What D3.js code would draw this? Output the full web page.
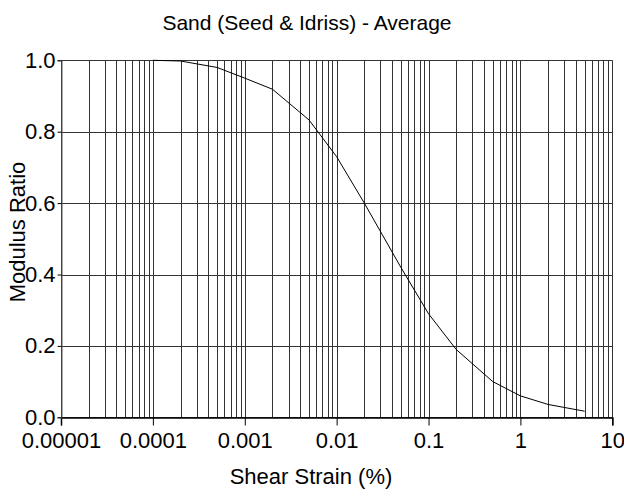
<!DOCTYPE html>
<html>
<head>
<meta charset="utf-8">
<script src="https://cdn.jsdelivr.net/npm/d3@7"></script>
<style>
  html, body { margin: 0; padding: 0; background: #fff; }
  svg { display: block; font-family: "Liberation Sans", Arial, sans-serif; }
</style>
</head>
<body>
<svg id="chart" width="624" height="492"></svg>
<script>
const titleText = "Sand (Seed & Idriss) - Average";
const xLabel = "Shear Strain (%)";
const yLabel = "Modulus Ratio";

const strain = [0.0001, 0.0002, 0.0005, 0.001, 0.002, 0.005, 0.01, 0.02, 0.05, 0.1, 0.2, 0.5, 1, 2, 5];
const modulusRatio = [1.0, 0.998, 0.98, 0.95, 0.919, 0.833, 0.73, 0.60, 0.42, 0.29, 0.19, 0.10, 0.06, 0.036, 0.017];

const xTickValues = [0.00001, 0.0001, 0.001, 0.01, 0.1, 1, 10];
const xTickLabels = ["0.00001", "0.0001", "0.001", "0.01", "0.1", "1", "10"];
const yTickValues = [0, 0.2, 0.4, 0.6, 0.8, 1.0];

const margin = { left: 61, right: 11.7, top: 60.3, bottom: 74.7 };
const W = 624, H = 492;
const svg = d3.select("#chart");
const FONT = "'Liberation Sans', Arial, sans-serif";

const x = d3.scaleLog().domain([0.00001, 10]).range([margin.left, W - margin.right]);
const y = d3.scaleLinear().domain([0, 1]).range([H - margin.bottom, margin.top]);

// minor vertical grid
const minor = [];
for (let e = -5; e < 1; e++) {
  for (let m = 1; m <= 9; m++) minor.push(m * Math.pow(10, e));
}
minor.push(10);

const g = svg.append("g");
g.append("g").selectAll("line").data(minor).join("line")
  .attr("x1", d => Math.round(x(d)) + 0.5).attr("x2", d => Math.round(x(d)) + 0.5)
  .attr("y1", y(1)).attr("y2", y(0))
  .attr("stroke", "#333").attr("stroke-width", 1);

g.append("g").selectAll("line").data(yTickValues).join("line")
  .attr("x1", x(0.00001)).attr("x2", x(10))
  .attr("y1", d => Math.round(y(d)) + 0.5).attr("y2", d => Math.round(y(d)) + 0.5)
  .attr("stroke", "#333").attr("stroke-width", 1);

// x axis
const xAxis = d3.axisBottom(x).tickValues(xTickValues)
  .tickFormat((d, i) => xTickLabels[i]).tickSize(8).tickPadding(7);
const xa = svg.append("g").attr("transform", `translate(0,${Math.round(y(0)) + 0.5})`).call(xAxis);
xa.select(".domain").attr("stroke", "#000").attr("stroke-width", 1.5);
xa.selectAll(".tick line").attr("stroke", "#000");
xa.selectAll("text").attr("font-size", 22).attr("fill", "#000").attr("font-family", FONT);

// y axis
const yAxis = d3.axisLeft(y).tickValues(yTickValues).tickFormat(d3.format(".1f")).tickSize(4).tickPadding(2);
const ya = svg.append("g").attr("transform", `translate(${Math.round(x(0.00001)) + 0.5},0)`).call(yAxis);
ya.select(".domain").attr("stroke", "#555");
ya.selectAll(".tick line").attr("stroke", "#000");
ya.selectAll("text").attr("font-size", 22).attr("fill", "#000").attr("font-family", FONT);

// curve
const line = d3.line().x(d => x(d[0])).y(d => y(d[1]));
svg.append("path")
  .datum(strain.map((s, i) => [s, modulusRatio[i]]))
  .attr("d", line).attr("fill", "none").attr("stroke", "#000").attr("stroke-width", 1);

// title
svg.append("text").attr("x", 307).attr("y", 30)
  .attr("text-anchor", "middle").attr("font-size", 21).attr("fill", "#000").text(titleText);

svg.append("text").attr("x", 311).attr("y", 484)
  .attr("text-anchor", "middle").attr("font-size", 22).attr("fill", "#000").text(xLabel);

svg.append("text").attr("transform", `translate(25,232) rotate(-90)`)
  .attr("text-anchor", "middle").attr("font-size", 22).attr("fill", "#000").text(yLabel);
</script>
</body>
</html>
